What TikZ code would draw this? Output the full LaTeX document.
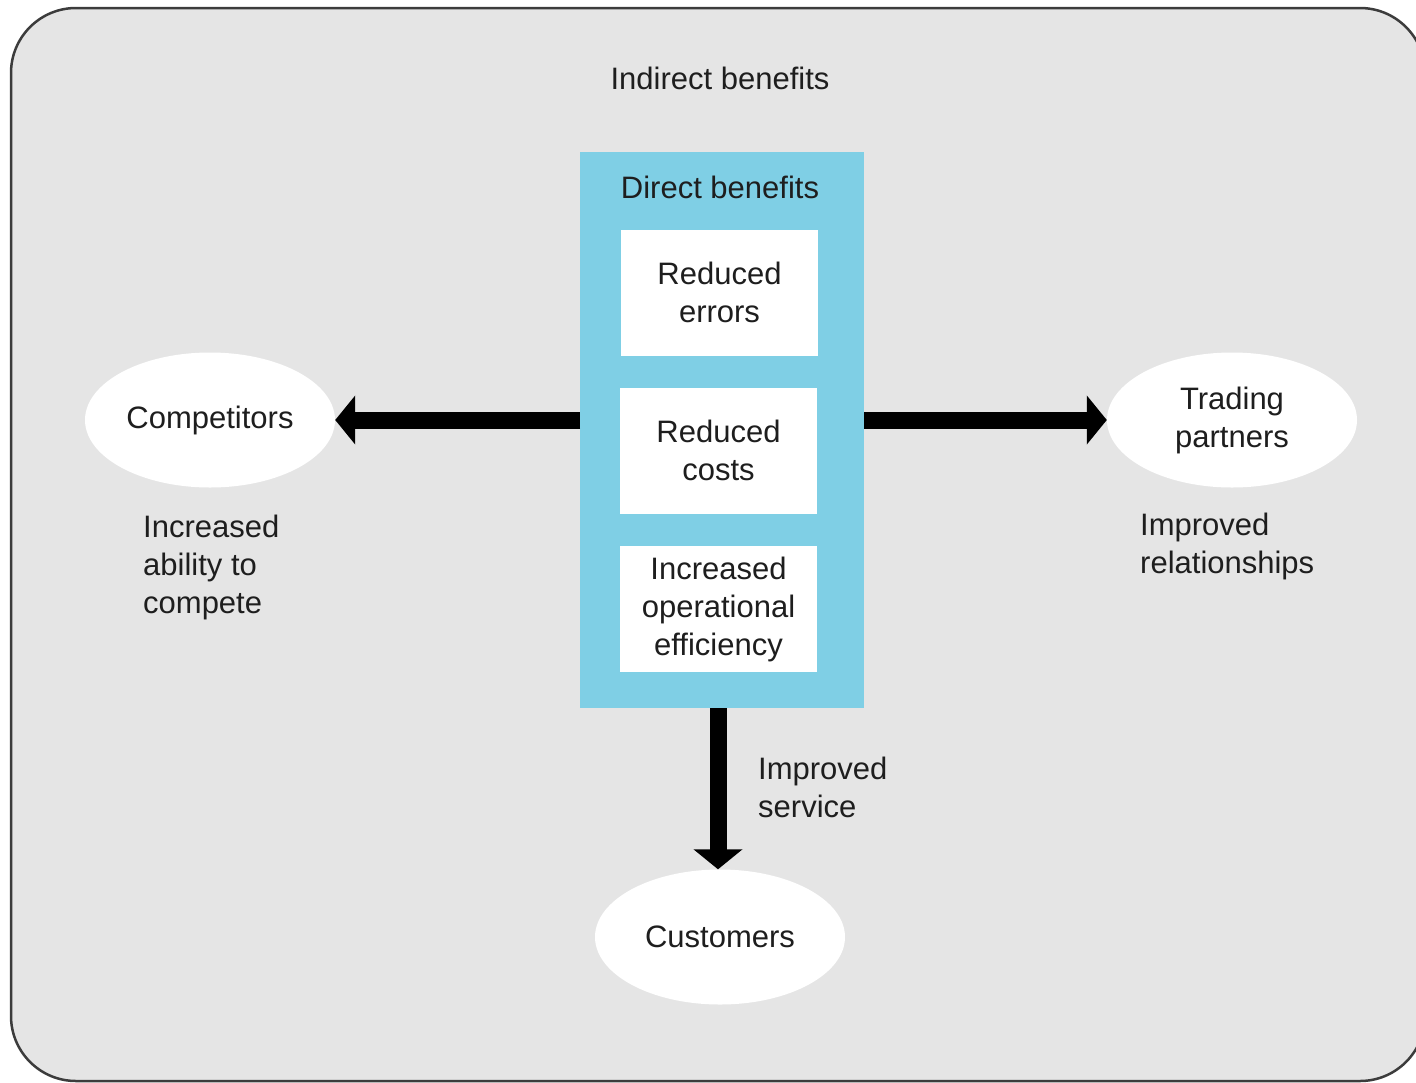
\documentclass[tikz,border=0pt]{standalone}
\usepackage{fontspec}
\setmainfont{Liberation Sans}
\usetikzlibrary{arrows.meta,shapes.geometric}
\definecolor{framebg}{RGB}{229,229,229}
\definecolor{frameline}{RGB}{60,60,60}
\definecolor{directblue}{RGB}{127,207,229}
\definecolor{txt}{RGB}{30,30,30}
\begin{document}
\begin{tikzpicture}[x=1pt,y=-1pt,
  lbl/.style={font=\fontsize{31}{38}\selectfont, text=txt, inner sep=0pt},
  boxtext/.style={lbl, align=center},
  sidetext/.style={lbl, align=left, anchor=north west},
  whitebox/.style={fill=white, draw=none, minimum width=197pt, minimum height=126pt, boxtext},
  party/.style={ellipse, fill=white, draw=none, minimum width=250pt, minimum height=135pt, boxtext},
  bigarrow/.style={line width=17pt, -{Triangle[length=20pt,width=48pt]}, black}]
\useasboundingbox (0,0) rectangle (1416,1082);
\draw[fill=framebg, draw=frameline, line width=2.5pt, rounded corners=65pt] (11,8) rectangle (1425,1081);
\node[lbl] (indirect) at (720,78) {Indirect benefits};
\node[fill=directblue, minimum width=284pt, minimum height=556pt, inner sep=0pt] (direct) at (722,430) {};
\node[lbl] (directlbl) at (720,187) {Direct benefits};
\node[whitebox] (errors) at (719.5,292.5) {Reduced\\errors};
\node[whitebox] (costs) at (718.5,450.5) {Reduced\\costs};
\node[whitebox] (eff) at (718.5,609) {Increased\\operational\\efficiency};
\node[party] (comp) at (210,420) {Competitors};
\node[party] (trade) at (1232,420) {Trading\\partners};
\node[party] (cust) at (720,937) {Customers};
\coordinate (lstart) at (580,420);
\coordinate (rstart) at (864,420);
\coordinate (dstart) at (718,708);
\draw[bigarrow] (lstart) -- (lstart -| comp.east);
\draw[bigarrow] (rstart) -- (rstart -| trade.west);
\draw[bigarrow] (dstart) -- (cust.north -| dstart);
\node[sidetext] (compete) at (143,515) {Increased\\ability to\\compete};
\node[sidetext] (relat) at (1140,513) {Improved\\relationships};
\node[sidetext] (service) at (758,757) {Improved\\service};
\end{tikzpicture}
\end{document}
